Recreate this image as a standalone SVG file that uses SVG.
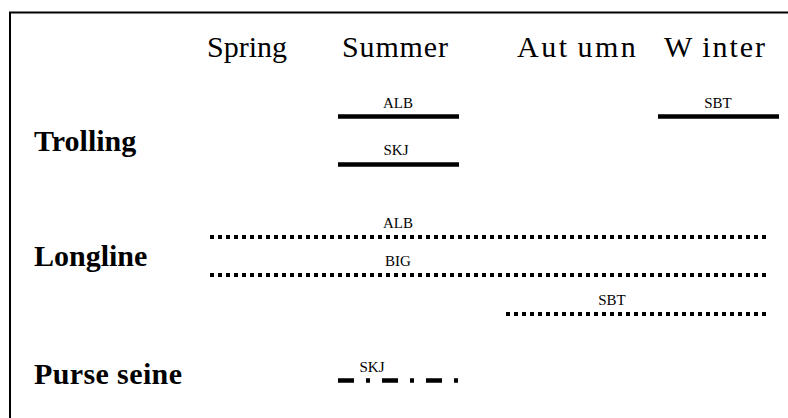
<svg xmlns="http://www.w3.org/2000/svg" width="788" height="418" viewBox="0 0 788 418">
<style>
.hdr{font-family:"Liberation Serif","Times New Roman",serif;font-size:30px;fill:#000}
.row{font-family:"Liberation Serif","Times New Roman",serif;font-size:30px;font-weight:bold;fill:#000}
.lbl{font-family:"Liberation Serif","Times New Roman",serif;font-size:15px;fill:#000;text-anchor:middle}
.solid{stroke:#000;stroke-width:4.5;fill:none}
.dot{stroke:#000;stroke-width:4;stroke-dasharray:4 4;fill:none}
.dashdot{stroke:#000;stroke-width:4.5;stroke-dasharray:16 12 4 12;fill:none}
</style>
<rect x="0" y="0" width="788" height="418" fill="#fff"/>
<path d="M10,420 V12.5 H790" fill="none" stroke="#000" stroke-width="2"/>
<g id="headers">
<text class="hdr" x="207" y="57">Spring</text>
<text class="hdr" x="342" y="57" textLength="106" lengthAdjust="spacing">Summer</text>
<text class="hdr" x="517" y="57" letter-spacing="2.5">Aut<tspan dx="8">umn</tspan></text>
<text class="hdr" x="664" y="57" letter-spacing="2">W<tspan dx="9">inter</tspan></text>
</g>
<g id="trolling">
<text class="row" x="34" y="151">Trolling</text>
</g>
<g id="longline">
<text class="row" x="34" y="266">Longline</text>
</g>
<g id="purse-seine">
<text class="row" x="34" y="384" textLength="148" lengthAdjust="spacing">Purse seine</text>
</g>
<g id="connectors">
<line class="solid" x1="338" y1="116.5" x2="459" y2="116.5"/>
<line class="solid" x1="338" y1="164.5" x2="459" y2="164.5"/>
<line class="solid" x1="658" y1="116.5" x2="779" y2="116.5"/>
<line class="dot" x1="210" y1="237" x2="768" y2="237"/>
<line class="dot" x1="210" y1="275" x2="768" y2="275"/>
<line class="dot" x1="506" y1="314" x2="768" y2="314"/>
<line class="dashdot" x1="338" y1="380.5" x2="460" y2="380.5"/>
</g>
<g id="labels">
<text class="lbl" x="398" y="108">ALB</text>
<text class="lbl" x="396" y="155">SKJ</text>
<text class="lbl" x="718" y="108">SBT</text>
<text class="lbl" x="398" y="228">ALB</text>
<text class="lbl" x="398" y="266">BIG</text>
<text class="lbl" x="612" y="305">SBT</text>
<text class="lbl" x="372" y="372">SKJ</text>
</g>
</svg>
